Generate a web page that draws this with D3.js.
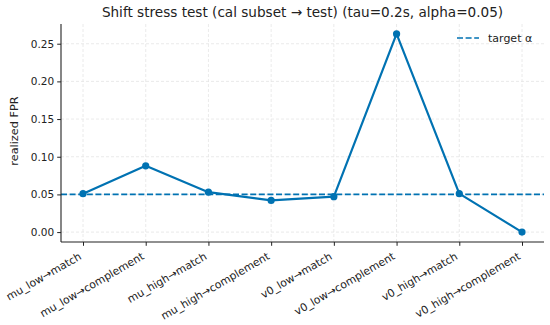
<!DOCTYPE html>
<html><head><meta charset="utf-8">
<script src="https://cdn.jsdelivr.net/npm/d3@7"></script>
<style>body{margin:0;background:#fff}svg,svg text{font-family:"DejaVu Sans",sans-serif}</style>
</head><body><svg id="c" width="550" height="325"></svg>
<script>
const categories = ["mu_low→match","mu_low→complement","mu_high→match","mu_high→complement","v0_low→match","v0_low→complement","v0_high→match","v0_high→complement"];
const fpr = [0.051,0.088,0.053,0.042,0.047,0.263,0.051,0.000];
const alpha = 0.05;
const yTicks = [0.00,0.05,0.10,0.15,0.20,0.25];

const svg = d3.select("#c");
const FONT = '"DejaVu Sans", sans-serif';
const L=61,R=544,T=24,B=242;
const color="#0072B2", ink="#222";
const x = d3.scalePoint().domain(categories).range([83,522]);
const y = d3.scaleLinear().domain([-0.01315,0.27615]).range([B,T]);

// grid
const g = svg.append("g");
g.selectAll(".gx").data(categories).enter().append("line")
 .attr("x1",d=>x(d)).attr("x2",d=>x(d)).attr("y1",T).attr("y2",B)
 .attr("stroke","#e4e4e4").attr("stroke-dasharray","3,2").attr("stroke-width",0.8);
g.selectAll(".gy").data(yTicks).enter().append("line")
 .attr("x1",L).attr("x2",R).attr("y1",d=>y(d)).attr("y2",d=>y(d))
 .attr("stroke","#e4e4e4").attr("stroke-dasharray","3,2").attr("stroke-width",0.8);

// target line
svg.append("line").attr("x1",L).attr("x2",R).attr("y1",y(alpha)).attr("y2",y(alpha))
 .attr("stroke",color).attr("stroke-width",1.6).attr("stroke-dasharray","6,2.6");

// series
svg.append("path").datum(fpr)
 .attr("d",d3.line().x((d,i)=>x(categories[i])).y(d=>y(d)))
 .attr("fill","none").attr("stroke",color).attr("stroke-width",2.2).attr("stroke-linejoin","round");
svg.selectAll(".pt").data(fpr).enter().append("circle")
 .attr("cx",(d,i)=>x(categories[i])).attr("cy",d=>y(d)).attr("r",3.6).attr("fill",color);

// axes
const xa = svg.append("g").attr("transform",`translate(0,${B})`)
 .call(d3.axisBottom(x).tickSize(3.8).tickPadding(3));
xa.attr("font-family",FONT);
xa.select(".domain").attr("d",`M${L},0H${R}`).attr("stroke",ink).attr("stroke-width",1.1);
xa.selectAll(".tick line").attr("stroke",ink);
xa.selectAll(".tick text").attr("font-size","10.8px").attr("fill",ink)
 .attr("text-anchor","end").attr("dy",null)
 .attr("transform","translate(-1.3,16.5) rotate(-30)").attr("x",0).attr("y",0);

const ya = svg.append("g").attr("transform",`translate(${L},0)`)
 .call(d3.axisLeft(y).tickValues(yTicks).tickFormat(d3.format(".2f")).tickSize(3.8).tickPadding(3));
ya.attr("font-family",FONT);
ya.select(".domain").attr("d",`M0,${T}V${B}`).attr("stroke",ink).attr("stroke-width",1.1);
ya.selectAll(".tick line").attr("stroke",ink);
ya.selectAll(".tick text").attr("font-size","10.5px").attr("fill",ink);

svg.append("text").attr("transform",`translate(18,${(T+B)/2 - 2}) rotate(-90)`)
 .attr("text-anchor","middle").attr("font-size","11.3px").attr("fill",ink).text("realized FPR");
svg.append("text").attr("x",(L+R)/2).attr("y",17).attr("text-anchor","middle")
 .attr("font-size","13.6px").attr("fill",ink).text("Shift stress test (cal subset → test) (tau=0.2s, alpha=0.05)");

// legend
svg.append("line").attr("x1",457).attr("x2",479).attr("y1",38).attr("y2",38)
 .attr("stroke",color).attr("stroke-width",1.6).attr("stroke-dasharray","6,2.6");
svg.append("text").attr("x",488).attr("y",41.8).attr("font-size","11px").attr("fill",ink).text("target α");
</script></body></html>
